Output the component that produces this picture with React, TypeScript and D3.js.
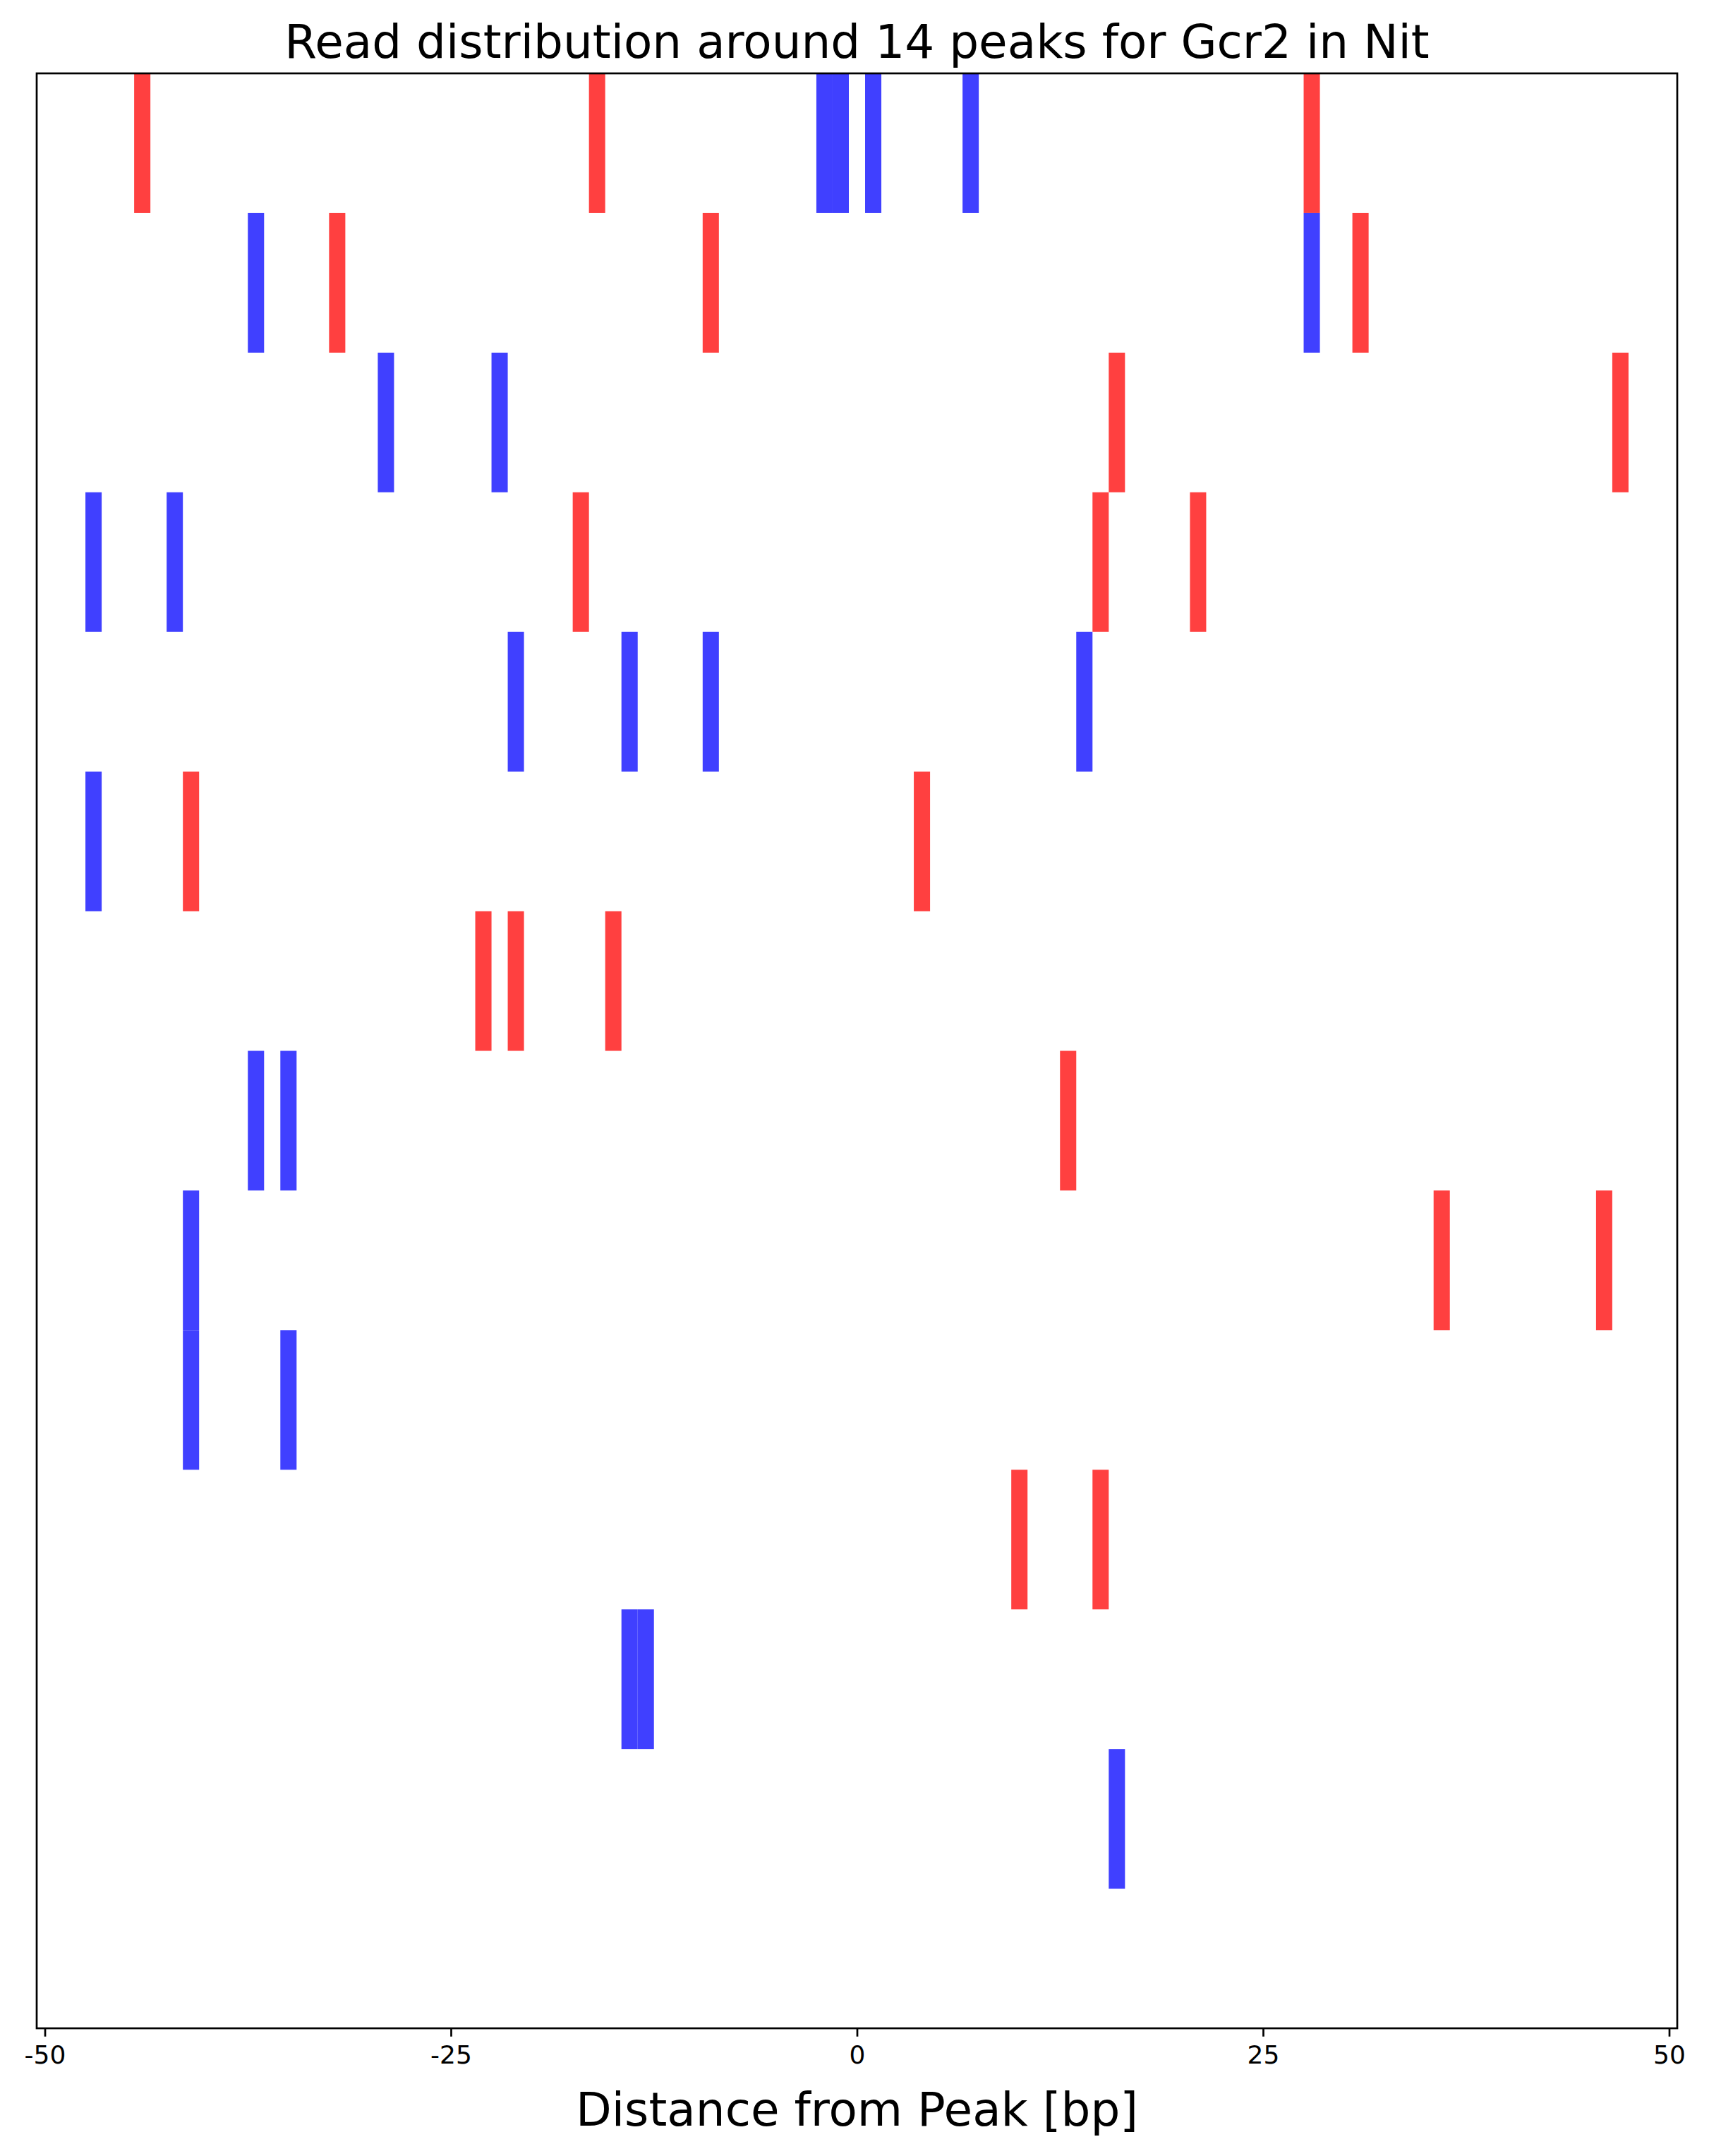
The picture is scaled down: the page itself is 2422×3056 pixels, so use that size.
import React, { useEffect, useRef } from "react";
import * as d3 from "d3";

// One entry per peak (top to bottom); positions are read offsets in bp.
const peakIds: number[] = [0, 1, 2, 3, 4, 5, 6, 7, 8, 9, 10, 11, 12, 13];

const redReads: number[][] = [
  [-44, -16, 28],
  [-32, -9, 31],
  [16, 47],
  [-17, 15, 21],
  [],
  [-41, 4],
  [-23, -21, -15],
  [13],
  [36, 46],
  [],
  [10, 15],
  [],
  [],
  [],
];

const blueReads: number[][] = [
  [-2, -1, 1, 7],
  [-37, 28],
  [-29, -22],
  [-47, -42],
  [-21, -14, -9, 14],
  [-47],
  [],
  [-37, -35],
  [-41],
  [-41, -35],
  [],
  [-14, -13],
  [16],
  [],
];

const xTicks: number[] = [-50, -25, 0, 25, 50];
const xTickLabels: string[] = ["-50", "-25", "0", "25", "50"];

const titleText = "Read distribution around 14 peaks for Gcr2 in Nit";
const xLabelText = "Distance from Peak [bp]";

const W = 2422;
const H = 3056;
const FONT = "'DejaVu Sans', sans-serif";

export default function App() {
  const ref = useRef<SVGSVGElement | null>(null);

  useEffect(() => {
    document.body.style.margin = "0";
    const svg = d3.select(ref.current);
    svg.selectAll("*").remove();

    const left = 52, right = 2377, top = 104, bottom = 2875;
    const x = d3.scaleLinear().domain([-50.5, 50.5]).range([left, right]);
    const y = d3.scaleLinear().domain([0, peakIds.length]).range([top, bottom]);

    svg.append("rect").attr("x", 0).attr("y", 0).attr("width", W).attr("height", H).attr("fill", "#ffffff");

    const g = svg.append("g");
    const series = [
      { reads: redReads, color: "#ff4040" },
      { reads: blueReads, color: "#4040ff" },
    ];
    series.forEach((s) => {
      peakIds.forEach((p) => {
        g.selectAll(null)
          .data(s.reads[p])
          .enter()
          .append("rect")
          .attr("x", (d) => x(d - 0.5))
          .attr("width", (d) => x(d + 0.5) - x(d - 0.5))
          .attr("y", y(p))
          .attr("height", y(p + 1) - y(p))
          .attr("fill", s.color);
      });
    });

    // frame
    svg.append("rect")
      .attr("x", left).attr("y", top)
      .attr("width", right - left).attr("height", bottom - top)
      .attr("fill", "none").attr("stroke", "#000").attr("stroke-width", 2.7);

    // x axis
    const axis = d3.axisBottom(x)
      .tickValues(xTicks)
      .tickFormat((d, i) => xTickLabels[i])
      .tickSize(11.7)
      .tickPadding(11);
    const ax = svg.append("g").attr("transform", `translate(0,${bottom})`).call(axis);
    ax.select(".domain").remove();
    ax.selectAll(".tick line").attr("stroke", "#000").attr("stroke-width", 2.7);
    ax.selectAll(".tick text")
      .attr("fill", "#000")
      .attr("font-family", FONT)
      .attr("font-size", 36)
      .attr("dy", "0.76em");

    svg.append("text")
      .attr("x", (left + right) / 2).attr("y", 82)
      .attr("text-anchor", "middle")
      .attr("font-family", FONT).attr("font-size", 66)
      .attr("fill", "#000")
      .text(titleText);

    svg.append("text")
      .attr("x", (left + right) / 2).attr("y", 3013)
      .attr("text-anchor", "middle")
      .attr("font-family", FONT).attr("font-size", 66)
      .attr("fill", "#000")
      .text(xLabelText);
  }, []);

  return <svg ref={ref} width={W} height={H} style={{ display: "block" }} />;
}
